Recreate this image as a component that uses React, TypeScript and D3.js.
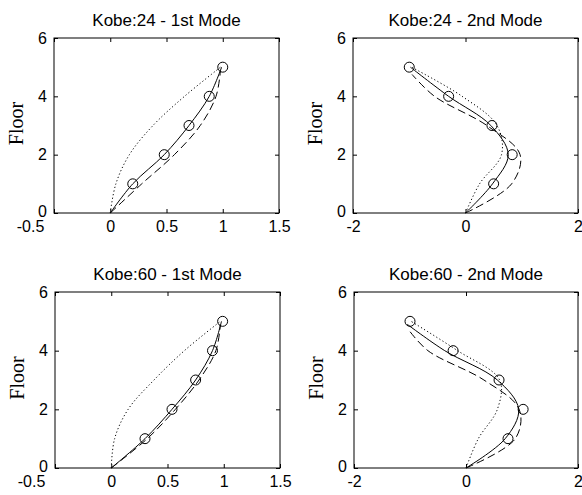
import React, { useEffect, useRef } from 'react';
import * as d3 from 'd3';

// ---------- data ----------
const titles = ['Kobe:24 - 1st Mode', 'Kobe:24 - 2nd Mode', 'Kobe:60 - 1st Mode', 'Kobe:60 - 2nd Mode'];
const yLabel = 'Floor';
const yTicks = [0, 2, 4, 6];
const xTicks1st = [-0.5, 0, 0.5, 1, 1.5];
const xTicks2nd = [-2, 0, 2];

const floors = [0, 1, 2, 3, 4, 5];
const markerFloors = [1, 2, 3, 4, 5];

// Kobe:24 - 1st mode
const k24m1Marker = [0.2, 0.48, 0.7, 0.88, 1.0];
const k24m1Solid = [0, 0.2, 0.48, 0.7, 0.88, 0.99];
const k24m1Dashed = [0, 0.28, 0.57, 0.8, 0.94, 0.98];
const k24m1DashedFloors = [0, 1, 2, 3, 4, 4.9];
const k24m1Dotted = [0, 0.05, 0.17, 0.38, 0.66, 0.98];

// Kobe:24 - 2nd mode
const k24m2Marker = [0.5, 0.83, 0.47, -0.3, -1.0];
const k24m2Solid = [0, 0.48, 0.76, 0.45, -0.3, -0.98];
const k24m2Dashed = [0, 0.82, 0.97, 0.38, -0.55, -0.95];
const k24m2DashedFloors = [0, 1, 2, 3, 4, 4.75];
const k24m2Dotted = [0, 0.25, 0.64, 0.56, -0.06, -0.96];

// Kobe:60 - 1st mode
const k60m1Marker = [0.3, 0.54, 0.75, 0.9, 0.99];
const k60m1Solid = [0, 0.3, 0.54, 0.75, 0.9, 0.98];
const k60m1Dashed = [0, 0.32, 0.57, 0.78, 0.93, 0.97];
const k60m1DashedFloors = [0, 1, 2, 3, 4, 4.9];
const k60m1Dotted = [0, 0.03, 0.15, 0.38, 0.65, 0.97];

// Kobe:60 - 2nd mode
const k60m2Marker = [0.75, 1.02, 0.59, -0.23, -1.0];
const k60m2Solid = [0, 0.7, 0.94, 0.56, -0.38, -1.05];
const k60m2SolidFloors = [0, 1, 2, 3, 4, 4.9];
const k60m2Dashed = [0, 0.88, 0.95, 0.32, -0.68, -1.02];
const k60m2DashedFloors = [0, 1, 2, 3, 4, 4.7];
const k60m2Dotted = [0, 0.22, 0.56, 0.6, -0.15, -0.98];

// ---------- layout ----------
const W = 582;
const H = 495;

const panels = [
  { title: titles[0], left: 54, top: 38, width: 225, height: 175, xDomain: [-0.5, 1.5], xTicks: xTicks1st,
    marker: k24m1Marker, solid: k24m1Solid, solidFloors: floors, dashed: k24m1Dashed, dashedFloors: k24m1DashedFloors, dotted: k24m1Dotted, dottedFloors: floors },
  { title: titles[1], left: 353, top: 38, width: 225, height: 175, xDomain: [-2, 2], xTicks: xTicks2nd,
    marker: k24m2Marker, solid: k24m2Solid, solidFloors: floors, dashed: k24m2Dashed, dashedFloors: k24m2DashedFloors, dotted: k24m2Dotted, dottedFloors: floors },
  { title: titles[2], left: 55, top: 292, width: 225, height: 176, xDomain: [-0.5, 1.5], xTicks: xTicks1st,
    marker: k60m1Marker, solid: k60m1Solid, solidFloors: floors, dashed: k60m1Dashed, dashedFloors: k60m1DashedFloors, dotted: k60m1Dotted, dottedFloors: floors },
  { title: titles[3], left: 354, top: 292, width: 224, height: 176, xDomain: [-2, 2], xTicks: xTicks2nd,
    marker: k60m2Marker, solid: k60m2Solid, solidFloors: k60m2SolidFloors, dashed: k60m2Dashed, dashedFloors: k60m2DashedFloors, dotted: k60m2Dotted, dottedFloors: floors },
];

const SANS = '"Liberation Sans", Arial, Helvetica, sans-serif';
const SERIF = '"Liberation Serif", "Times New Roman", Times, serif';

export default function App() {
  const ref = useRef<SVGSVGElement>(null);

  useEffect(() => {
    const svg = d3.select(ref.current);
    svg.selectAll('*').remove();
    svg.append('rect').attr('width', W).attr('height', H).attr('fill', '#fff');

    panels.forEach((p) => {
      const x = d3.scaleLinear().domain(p.xDomain).range([p.left, p.left + p.width]);
      const y = d3.scaleLinear().domain([0, 6]).range([p.top + p.height, p.top]);
      const g = svg.append('g');

      const styleAxis = (sel: any, showLabels: boolean) => {
        sel.select('.domain').remove();
        sel.selectAll('.tick line').attr('stroke', '#000').attr('stroke-width', 1);
        sel.selectAll('.tick text')
          .attr('fill', '#000')
          .attr('font-family', SANS)
          .attr('font-size', 16)
          .style('display', showLabels ? null : 'none');
      };

      // bottom axis
      const xb = g.append('g')
        .attr('transform', `translate(0,${p.top + p.height})`)
        .call(d3.axisBottom(x).tickValues(p.xTicks).tickSize(-4).tickPadding(8).tickFormat((d: any) => String(d)));
      styleAxis(xb, true);
      if (p.xTicks[0] === -0.5) {
        xb.selectAll('.tick text').filter((d: any) => d === -0.5).attr('dx', -24);
      }
      // top axis (ticks only)
      const xt = g.append('g')
        .attr('transform', `translate(0,${p.top})`)
        .call(d3.axisTop(x).tickValues(p.xTicks).tickSize(-4));
      styleAxis(xt, false);
      // left axis
      const yl = g.append('g')
        .attr('transform', `translate(${p.left},0)`)
        .call(d3.axisLeft(y).tickValues(yTicks).tickSize(-4).tickPadding(7).tickFormat((d: any) => String(d)));
      styleAxis(yl, true);
      yl.selectAll('.tick text').filter((d: any) => d === 0).attr('dy', '0.2em');
      // right axis (ticks only)
      const yr = g.append('g')
        .attr('transform', `translate(${p.left + p.width},0)`)
        .call(d3.axisRight(y).tickValues(yTicks).tickSize(-4));
      styleAxis(yr, false);

      // box
      g.append('rect')
        .attr('x', p.left).attr('y', p.top)
        .attr('width', p.width).attr('height', p.height)
        .attr('fill', 'none').attr('stroke', '#000').attr('stroke-width', 1);

      // title
      g.append('text')
        .attr('x', p.left + p.width / 2)
        .attr('y', p.top - 12)
        .attr('text-anchor', 'middle')
        .attr('font-family', SANS)
        .attr('font-size', 17)
        .attr('fill', '#000')
        .text(p.title);

      // y label
      g.append('text')
        .attr('transform', `translate(${p.left - 31},${p.top + p.height / 2 - 2}) rotate(-90)`)
        .attr('text-anchor', 'middle')
        .attr('font-family', SERIF)
        .attr('font-size', 20)
        .attr('fill', '#000')
        .text(yLabel);

      const line = d3.line<[number, number]>()
        .x((d) => x(d[0]))
        .y((d) => y(d[1]))
        .curve(d3.curveCatmullRom.alpha(0.5));

      const series = [
        { xs: p.dotted, fs: p.dottedFloors, dash: '1.2,2.4' },
        { xs: p.dashed, fs: p.dashedFloors, dash: '8,4' },
        { xs: p.solid, fs: p.solidFloors, dash: null },
      ];
      series.forEach((s) => {
        const pts: [number, number][] = s.xs.map((v: number, i: number) => [v, s.fs[i]]);
        g.append('path')
          .attr('d', line(pts))
          .attr('fill', 'none')
          .attr('stroke', '#000')
          .attr('stroke-width', 1)
          .attr('stroke-dasharray', s.dash);
      });

      g.selectAll('circle.m')
        .data(p.marker.map((v: number, i: number) => [v, markerFloors[i]]))
        .enter()
        .append('circle')
        .attr('cx', (d: any) => x(d[0]))
        .attr('cy', (d: any) => y(d[1]))
        .attr('r', 5)
        .attr('fill', 'none')
        .attr('stroke', '#000')
        .attr('stroke-width', 1);
    });
  }, []);

  return (
    <svg
      ref={ref}
      width={W}
      height={H}
      style={{ position: 'absolute', left: 0, top: 0, background: '#fff' }}
    />
  );
}
